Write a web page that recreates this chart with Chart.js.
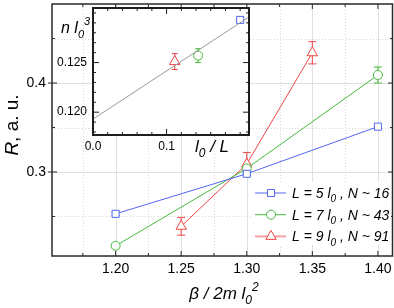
<!DOCTYPE html>
<html><head><meta charset="utf-8">
<script src="https://cdn.jsdelivr.net/npm/chart.js@4"></script>
<style>
html,body{margin:0;padding:0;background:#fff;}
#wrap{position:relative;width:394px;height:308px;}
#wrap canvas{position:absolute;left:0;top:0;}
</style></head><body>
<div id="wrap"><canvas id="main" width="394" height="308"></canvas><canvas id="inset" width="394" height="308"></canvas></div>
<script>
// main plot: R vs beta/2m l0^2
const beta5=[1.20,1.30,1.40];
const R5=[0.253,0.298,0.351];
const err5=[0.002,0.002,0.002];
const beta7=[1.20,1.30,1.40];
const R7=[0.217,0.304,0.409];
const err7=[0.002,0.005,0.009];
const beta9=[1.25,1.30,1.35];
const R9=[0.239,0.309,0.434];
const err9=[0.010,0.013,0.0125];
const xTicks=[1.20,1.25,1.30,1.35,1.40];
const xMinor=[1.175,1.225,1.275,1.325,1.375];
const yTicks=[0.3,0.4];
const yMinor=[0.25,0.35,0.45];
const legendTxt=[['L = 5 l','0',' , N ~ 16'],['L = 7 l','0',' , N ~ 43'],['L = 9 l','0',' , N ~ 91']];

// inset: n l0^3 vs l0/L
const invL=[0.2,1/7,1/9];
const nL3=[0.1293,0.1257,0.1251];
const nErr=[0.0003,0.0007,0.0008];
const fitX=[0,0.212];
const fitY=[0.1193,0.1296];
const inXTicks=[0,0.1];
const inXMinor=[0.02,0.04,0.06,0.08,0.12,0.14,0.16,0.18,0.2];
const inYTicks=[0.120,0.125];
const inYMinor=[0.118,0.119,0.121,0.122,0.123,0.124,0.126,0.127,0.128,0.129,0.130];

const FONT='"Liberation Sans", Arial, sans-serif';
const cols=['#5366f2','#45b83a','#f04545'];
const shapes=['rect','circle','triangle'];
const radii=[5,4.5,6];

function rich(ctx,parts,x,y,size,align){
  // parts: [text, kind] kind: i italic, r regular, sub, sup
  const fonts=parts.map(p=>{
    if(p[1]==='sub'||p[1]==='sup') return 'italic '+Math.round(size*0.68)+'px '+FONT;
    return (p[1]==='r'?'':'italic ')+size+'px '+FONT;
  });
  let w=0;const ws=[];
  parts.forEach((p,i)=>{ctx.font=fonts[i];const m=ctx.measureText(p[0]).width;ws.push(m);w+=m;});
  let cx=align==='center'?x-w/2:(align==='right'?x-w:x);
  ctx.textAlign='left';ctx.textBaseline='alphabetic';
  parts.forEach((p,i)=>{
    ctx.font=fonts[i];
    let dy=0;
    if(p[1]==='sub') dy=size*0.3;
    if(p[1]==='sup') dy=-size*0.5;
    ctx.fillText(p[0],cx,y+dy);
    cx+=ws[i];
  });
}

function marker(ctx,shape,x,y,r){
  Chart.helpers.drawPoint(ctx,{pointStyle:shape,radius:r,borderWidth:1},x,y);
}

function noPad(s){s.paddingLeft=0;s.paddingRight=0;s.paddingTop=0;s.paddingBottom=0;}

const mainPlug={
  id:'mainPlug',
  beforeDatasetsDraw(c){
    const {ctx,chartArea:a,scales:{x,y}}=c;
    ctx.save();
    // grid
    ctx.lineWidth=1;
    ctx.strokeStyle='#dde1e1';
    xTicks.forEach(v=>{const px=Math.round(x.getPixelForValue(v))+0.5;ctx.beginPath();ctx.moveTo(px,a.top);ctx.lineTo(px,a.bottom);ctx.stroke();});
    yTicks.forEach(v=>{const py=Math.round(y.getPixelForValue(v))+0.5;ctx.beginPath();ctx.moveTo(a.left,py);ctx.lineTo(a.right,py);ctx.stroke();});
    ctx.setLineDash([1,2]);
    ctx.strokeStyle='#d6d6d6';
    xMinor.forEach(v=>{const px=Math.round(x.getPixelForValue(v))+0.5;ctx.beginPath();ctx.moveTo(px,a.top);ctx.lineTo(px,a.bottom);ctx.stroke();});
    yMinor.forEach(v=>{const py=Math.round(y.getPixelForValue(v))+0.5;ctx.beginPath();ctx.moveTo(a.left,py);ctx.lineTo(a.right,py);ctx.stroke();});
    ctx.setLineDash([]);
    // error bars
    [[beta5,R5,err5],[beta7,R7,err7],[beta9,R9,err9]].forEach((s,k)=>{
      ctx.strokeStyle=cols[k];
      s[0].forEach((b,i)=>{
        const px=x.getPixelForValue(b),p1=y.getPixelForValue(s[1][i]+s[2][i]),p2=y.getPixelForValue(s[1][i]-s[2][i]);
        ctx.beginPath();ctx.moveTo(px,p1);ctx.lineTo(px,p2);
        ctx.moveTo(px-4,p1);ctx.lineTo(px+4,p1);ctx.moveTo(px-4,p2);ctx.lineTo(px+4,p2);ctx.stroke();
      });
    });
    ctx.restore();
  },
  afterDraw(c){
    const {ctx,chartArea:a,scales:{x,y}}=c;
    ctx.save();
    // frame
    ctx.strokeStyle='#2a2a2a';ctx.lineWidth=1.5;
    ctx.strokeRect(a.left,a.top,a.right-a.left-0.5,a.bottom-a.top);
    ctx.lineWidth=1;
    xTicks.forEach(v=>{const px=x.getPixelForValue(v);ctx.beginPath();ctx.moveTo(px,a.bottom);ctx.lineTo(px,a.bottom-5);ctx.moveTo(px,a.top);ctx.lineTo(px,a.top+5);ctx.stroke();});
    xMinor.forEach(v=>{const px=x.getPixelForValue(v);ctx.beginPath();ctx.moveTo(px,a.bottom);ctx.lineTo(px,a.bottom-3);ctx.moveTo(px,a.top);ctx.lineTo(px,a.top+3);ctx.stroke();});
    yTicks.forEach(v=>{const py=y.getPixelForValue(v);ctx.beginPath();ctx.moveTo(a.left-4,py);ctx.lineTo(a.left+5,py);ctx.moveTo(a.right,py);ctx.lineTo(a.right-5,py);ctx.stroke();});
    yMinor.forEach(v=>{const py=y.getPixelForValue(v);ctx.beginPath();ctx.moveTo(a.left,py);ctx.lineTo(a.left+3,py);ctx.moveTo(a.right,py);ctx.lineTo(a.right-3,py);ctx.stroke();});
    // legend
    ctx.fillStyle='#fff';ctx.fillRect(252,182,139,63);
    legendTxt.forEach((t,k)=>{
      const yy=193+k*21.7;
      ctx.strokeStyle=cols[k];ctx.lineWidth=k===2?2:1;ctx.globalAlpha=k===2?0.5:1;
      ctx.beginPath();ctx.moveTo(255,yy);ctx.lineTo(286,yy);ctx.stroke();
      ctx.globalAlpha=1;ctx.lineWidth=1;
      ctx.fillStyle='#fff';ctx.strokeStyle=cols[k];
      marker(ctx,shapes[k],271,yy,radii[k]);
      ctx.fillStyle='#000';
      rich(ctx,[[t[0],'i'],[t[1],'sub'],[t[2],'i']],292,yy+5,14,'left');
    });
    // axis titles
    ctx.fillStyle='#000';
    rich(ctx,[['β / 2m l','i'],['0','sub'],['2','sup']],224,299,17,'center');
    ctx.translate(18,125);ctx.rotate(-Math.PI/2);
    rich(ctx,[['R','i'],[', a. u.','r']],0,0,19,'center');
    ctx.restore();
  }
};

function ds(xs,ys,k){
  return {data:xs.map((v,i)=>({x:v,y:ys[i]})),showLine:true,borderColor:cols[k],borderWidth:1,
    pointStyle:shapes[k],pointRadius:radii[k],pointBorderColor:cols[k],pointBackgroundColor:'#fff',pointBorderWidth:1};
}

new Chart(document.getElementById('main'),{
  type:'scatter',
  data:{datasets:[ds(beta5,R5,0),ds(beta7,R7,1),ds(beta9,R9,2)]},
  options:{responsive:false,animation:false,devicePixelRatio:1,
    layout:{autoPadding:false,padding:{left:0,top:4,right:1,bottom:0}},
    plugins:{legend:{display:false},tooltip:{enabled:false}},
    scales:{
      x:{type:'linear',min:1.1515,max:1.4115,
        afterBuildTicks:s=>{s.ticks=xTicks.map(v=>({value:v}));},
        afterFit:s=>{s.height=52;noPad(s);},
        grid:{display:false,drawTicks:false},border:{display:false},
        ticks:{font:{family:FONT,size:14},color:'#000',padding:5,maxRotation:0,callback:v=>v.toFixed(2)}},
      y:{type:'linear',min:0.2056,max:0.4888,
        afterBuildTicks:s=>{s.ticks=yTicks.map(v=>({value:v}));},
        afterFit:s=>{s.width=52;noPad(s);},
        grid:{display:false,drawTicks:false},border:{display:false},
        ticks:{font:{family:FONT,size:14},color:'#000',padding:6,callback:v=>v.toFixed(1)}}
    }},
  plugins:[mainPlug]
});

const insetPlug={
  id:'insetPlug',
  beforeDraw(c){
    const {ctx,chartArea:a}=c;
    ctx.save();ctx.fillStyle='#fff';ctx.fillRect(a.left,a.top,a.right-a.left,a.bottom-a.top);ctx.restore();
  },
  beforeDatasetsDraw(c){
    const {ctx,scales:{x,y}}=c;
    ctx.save();ctx.lineWidth=1;
    invL.forEach((v,k)=>{
      ctx.strokeStyle=cols[k];
      const px=x.getPixelForValue(v),p1=y.getPixelForValue(nL3[k]+nErr[k]),p2=y.getPixelForValue(nL3[k]-nErr[k]);
      ctx.beginPath();ctx.moveTo(px,p1);ctx.lineTo(px,p2);
      ctx.moveTo(px-3,p1);ctx.lineTo(px+3,p1);ctx.moveTo(px-3,p2);ctx.lineTo(px+3,p2);ctx.stroke();
    });
    ctx.restore();
  },
  afterDraw(c){
    const {ctx,chartArea:a,scales:{x,y}}=c;
    ctx.save();
    ctx.strokeStyle='#1e1e1e';ctx.lineWidth=2;
    ctx.strokeRect(a.left,a.top,a.right-a.left,a.bottom-a.top);
    ctx.lineWidth=1;
    inXTicks.forEach(v=>{const px=x.getPixelForValue(v);ctx.beginPath();ctx.moveTo(px,a.bottom);ctx.lineTo(px,a.bottom-6);ctx.moveTo(px,a.top);ctx.lineTo(px,a.top+6);ctx.stroke();});
    inXMinor.forEach(v=>{const px=x.getPixelForValue(v);ctx.beginPath();ctx.moveTo(px,a.bottom);ctx.lineTo(px,a.bottom-3);ctx.moveTo(px,a.top);ctx.lineTo(px,a.top+3);ctx.stroke();});
    inYTicks.forEach(v=>{const py=y.getPixelForValue(v);ctx.beginPath();ctx.moveTo(a.left,py);ctx.lineTo(a.left+6,py);ctx.moveTo(a.right,py);ctx.lineTo(a.right-6,py);ctx.stroke();});
    inYMinor.forEach(v=>{const py=y.getPixelForValue(v);ctx.beginPath();ctx.moveTo(a.left,py);ctx.lineTo(a.left+3,py);ctx.moveTo(a.right,py);ctx.lineTo(a.right-3,py);ctx.stroke();});
    ctx.fillStyle='#000';
    rich(ctx,[['n l','i'],['0','sub'],['3','sup']],61,33,16,'left');
    rich(ctx,[['l','i'],['0','sub'],[' / L','i']],212,152,17,'center');
    ctx.restore();
  }
};

new Chart(document.getElementById('inset'),{
  type:'scatter',
  data:{datasets:[
    {data:fitX.map((v,i)=>({x:v,y:fitY[i]})),showLine:true,borderColor:'#9a9a9a',borderWidth:1,pointRadius:0},
    ...invL.map((v,k)=>({data:[{x:v,y:nL3[k]}],pointStyle:shapes[k],pointRadius:radii[k],pointBorderColor:cols[k],pointBackgroundColor:'#fff',pointBorderWidth:1}))
  ]},
  options:{responsive:false,animation:false,devicePixelRatio:1,
    layout:{autoPadding:false,padding:{left:53,top:8,right:145,bottom:153}},
    plugins:{legend:{display:false},tooltip:{enabled:false}},
    scales:{
      x:{type:'linear',min:0,max:0.212,
        afterBuildTicks:s=>{s.ticks=inXTicks.map(v=>({value:v}));},
        afterFit:s=>{s.height=20;noPad(s);},
        grid:{display:false,drawTicks:false},border:{display:false},
        ticks:{font:{family:FONT,size:12},color:'#000',padding:4,maxRotation:0,callback:v=>v.toFixed(1)}},
      y:{type:'linear',min:0.1177,max:0.1305,
        afterBuildTicks:s=>{s.ticks=inYTicks.map(v=>({value:v}));},
        afterFit:s=>{s.width=40;noPad(s);},
        grid:{display:false,drawTicks:false},border:{display:false},
        ticks:{font:{family:FONT,size:12},color:'#000',padding:6,callback:v=>v.toFixed(3)}}
    }},
  plugins:[insetPlug]
});
</script></body></html>
